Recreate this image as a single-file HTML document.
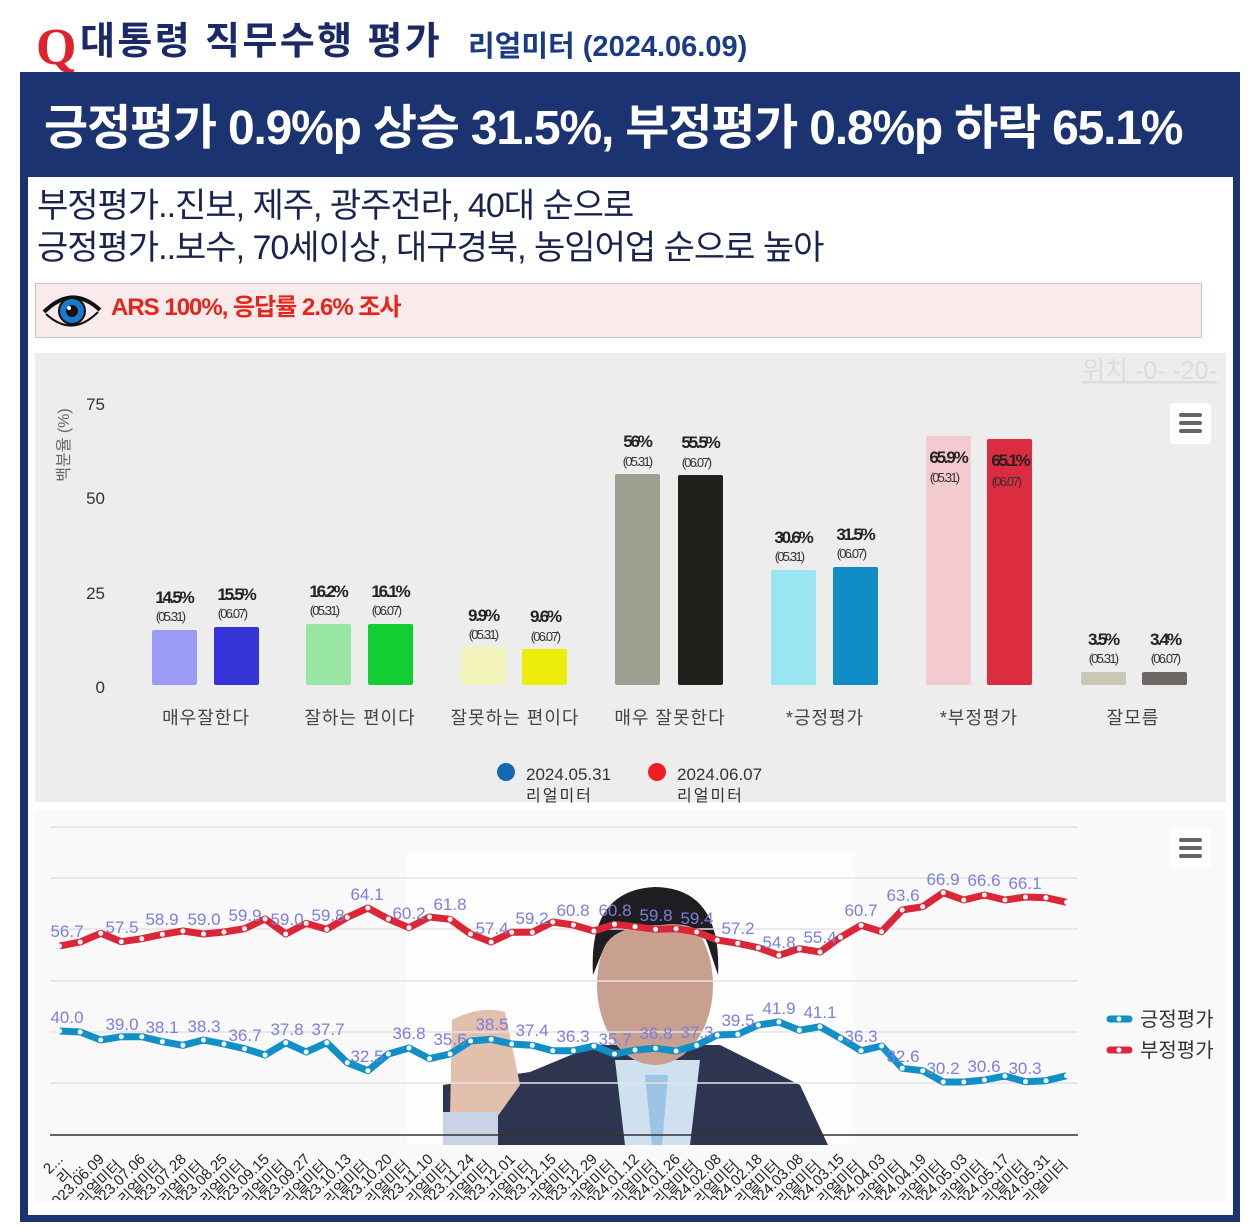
<!DOCTYPE html>
<html><head><meta charset="utf-8">
<style>
body{margin:0;background:#fff;width:1248px;height:1228px;overflow:hidden;font-family:"Liberation Sans","Noto Sans CJK KR",sans-serif;}
.abs{position:absolute;}
</style></head>
<body>
<div class="abs" style="left:0;top:0;width:1248px;height:1228px;">
<div class="abs" style="left:36px;top:18px;font-family:'Liberation Serif',serif;font-weight:bold;font-size:52px;color:#e0202a;line-height:60px;">Q</div>
<div class="abs" style="left:80px;top:19px;font-weight:bold;font-size:38px;color:#1a2a66;line-height:46px;letter-spacing:2.4px;">대통령 직무수행 평가</div>
<div class="abs" style="left:468px;top:29px;font-weight:bold;font-size:29px;color:#1a3a8a;line-height:36px;letter-spacing:0px;">리얼미터 (2024.06.09)</div>
<div class="abs" style="left:20px;top:72px;width:1220px;height:1150px;background:#1b3370;"></div>
<div class="abs" style="left:44px;top:84px;width:1190px;height:90px;color:#fff;font-weight:bold;font-size:48px;line-height:90px;letter-spacing:-1.2px;white-space:nowrap;">긍정평가 0.9%p 상승 31.5%, 부정평가 0.8%p 하락 65.1%</div>
<div class="abs" style="left:28px;top:177px;width:1205px;height:1038px;background:#fff;"></div>
<div class="abs" style="left:37px;top:185px;font-size:34px;line-height:42px;color:#1a2350;letter-spacing:-1px;">부정평가..진보, 제주, 광주전라, 40대 순으로<br>긍정평가..보수, 70세이상, 대구경북, 농임어업 순으로 높아</div>
<div class="abs" style="left:35px;top:283px;width:1165px;height:53px;background:#f9ebec;border:1px solid #c8c8c8;"></div>
<svg class="abs" style="left:40px;top:288px" width="64" height="44" viewBox="0 0 64 44">
<path d="M4 24 Q32 -4 60 22" stroke="#111" stroke-width="4" fill="none"/>
<path d="M6 26 Q32 50 58 24" stroke="#111" stroke-width="2" fill="none"/>
<circle cx="32" cy="23" r="13" fill="#1b7ac8" stroke="#111" stroke-width="2"/>
<circle cx="32" cy="23" r="6" fill="#111"/><circle cx="29" cy="20" r="2" fill="#fff"/>
</svg>
<div class="abs" style="left:111px;top:292px;font-weight:bold;font-size:24px;color:#e82418;line-height:32px;letter-spacing:-1px;">ARS 100%, 응답률 2.6% 조사</div>

<svg class="abs" style="left:0;top:0" width="1248" height="1228">
<rect x="35" y="353" width="1191" height="449" fill="#ededed"/>
<text x="1082" y="379" font-size="25" fill="#dcdcdc" text-decoration="underline">위치 -0- -20-</text>
<rect x="1170" y="403" width="41" height="41" rx="3" fill="#fff"/>
<g stroke="#666" stroke-width="4" stroke-linecap="round"><line x1="1181" y1="415" x2="1200" y2="415"/><line x1="1181" y1="423" x2="1200" y2="423"/><line x1="1181" y1="431" x2="1200" y2="431"/></g>
<text transform="translate(69,445) rotate(-90)" text-anchor="middle" font-size="16" fill="#666">백분율 (%)</text>
<g font-size="17" fill="#333" text-anchor="end">
<text x="105" y="410">75</text><text x="105" y="504">50</text><text x="105" y="599">25</text><text x="105" y="693">0</text>
</g>
<g>
<rect x="152" y="630" width="45" height="55" fill="#9b9bf5" rx="2"/><rect x="214" y="627" width="45" height="58" fill="#3535da" rx="2"/>
<rect x="306" y="624" width="45" height="61" fill="#99e6a3" rx="2"/><rect x="368" y="624" width="45" height="61" fill="#12ce32" rx="2"/>
<rect x="461" y="647" width="45" height="38" fill="#f4f4bd" rx="2"/><rect x="522" y="649" width="45" height="36" fill="#eced08" rx="2"/>
<rect x="615" y="474" width="45" height="211" fill="#9f9f91" rx="2"/><rect x="678" y="475" width="45" height="210" fill="#20201d" rx="2"/>
<rect x="771" y="570" width="45" height="115" fill="#9ae6f0" rx="2"/><rect x="833" y="567" width="45" height="118" fill="#0f8cc6" rx="2"/>
<rect x="926" y="436" width="45" height="249" fill="#f4cad1" rx="2"/><rect x="987" y="439" width="45" height="246" fill="#dc2c40" rx="2"/>
<rect x="1081" y="672" width="45" height="13" fill="#c8c8b5" rx="2"/><rect x="1142" y="672" width="45" height="13" fill="#6f6766" rx="2"/>
</g>
<g text-anchor="middle" fill="#222" font-weight="bold" font-size="17" letter-spacing="-2.2">
<text x="174" y="603">14.5%</text><text x="236" y="600">15.5%</text>
<text x="328" y="597">16.2%</text><text x="390" y="597">16.1%</text>
<text x="483" y="621">9.9%</text><text x="545" y="622">9.6%</text>
<text x="637" y="447">56%</text><text x="700" y="448">55.5%</text>
<text x="793" y="543">30.6%</text><text x="855" y="540">31.5%</text>
<text x="948" y="463">65.9%</text><text x="1010" y="466">65.1%</text>
<text x="1103" y="645">3.5%</text><text x="1165" y="645">3.4%</text>
</g>
<g text-anchor="middle" fill="#333" font-size="13" letter-spacing="-1.8">
<text x="170" y="621">(05.31)</text><text x="232" y="618">(06.07)</text>
<text x="324" y="615">(05.31)</text><text x="386" y="615">(06.07)</text>
<text x="483" y="639">(05.31)</text><text x="545" y="641">(06.07)</text>
<text x="637" y="466">(05.31)</text><text x="696" y="467">(06.07)</text>
<text x="789" y="561">(05.31)</text><text x="851" y="558">(06.07)</text>
<text x="944" y="482">(05.31)</text><text x="1006" y="486">(06.07)</text>
<text x="1103" y="663">(05.31)</text><text x="1165" y="663">(06.07)</text>
</g>
<g text-anchor="middle" fill="#444" font-size="18" letter-spacing="1">
<text x="206" y="724">매우잘한다</text><text x="360" y="724">잘하는 편이다</text><text x="515" y="724">잘못하는 편이다</text>
<text x="670" y="724">매우 잘못한다</text><text x="825" y="724">*긍정평가</text><text x="979" y="724">*부정평가</text><text x="1133" y="724">잘모름</text>
</g>
<circle cx="506" cy="772" r="9" fill="#1369b4"/><text x="526" y="780" font-size="17" fill="#333">2024.05.31</text><text x="526" y="801" font-size="16" fill="#333" letter-spacing="2">리얼미터</text>
<circle cx="657" cy="772" r="9" fill="#f01c26"/><text x="677" y="780" font-size="17" fill="#333">2024.06.07</text><text x="677" y="801" font-size="16" fill="#333" letter-spacing="2">리얼미터</text>

<rect x="35" y="810" width="1191" height="392" fill="#f9f9f9"/>
<rect x="407" y="853" width="448" height="290" fill="#fdfdfd"/>
<g>
<path d="M443 1145 L443 1085 L530 1072 L595 1045 L720 1045 L800 1085 L828 1145 Z" fill="#2e3550"/>
<path d="M615 1060 L700 1060 L690 1145 L625 1145 Z" fill="#cfe0ee"/>
<path d="M645 1075 L668 1075 L662 1145 L652 1145 Z" fill="#9cc4e4"/>
<ellipse cx="655" cy="985" rx="58" ry="80" fill="#c9a090"/>
<path d="M593 975 Q588 890 655 887 Q722 888 718 975 L708 945 Q700 920 660 925 Q612 925 603 950 Z" fill="#1e1e22"/>
<path d="M450 1115 L452 1020 Q480 1005 505 1012 L520 1085 L495 1120 Z" fill="#e3bfae"/>
<rect x="443" y="1112" width="55" height="33" fill="#c9d3e6"/>
</g>
<g stroke="#e3e3e3" stroke-width="1.5">
<line x1="50" y1="827" x2="1078" y2="827"/><line x1="50" y1="878" x2="1078" y2="878"/><line x1="50" y1="929" x2="1078" y2="929"/>
<line x1="50" y1="981" x2="1078" y2="981"/><line x1="50" y1="1032" x2="1078" y2="1032"/><line x1="50" y1="1083" x2="1078" y2="1083"/>
</g>
<line x1="50" y1="1135" x2="1078" y2="1135" stroke="#333" stroke-width="1.5"/>
<polyline id="red" fill="none" stroke="#dc2638" stroke-width="7" stroke-linejoin="round" points="59.6,946 80.2,942 100.7,933.3 121.3,941.7 141.8,938.7 162.4,934.3 182.9,931 203.5,934 224,932 244.6,928.7 265.1,919 285.7,934 306.2,923.3 326.8,929.3 347.3,917.3 367.9,908 388.4,919 409,927.7 429.5,917 450.1,919.3 470.6,934 491.2,942 511.7,932.3 532.3,932.3 552.8,922 573.4,925 593.9,931 614.5,924.3 635,926.7 655.6,929.3 676.1,928.7 696.7,932 717.2,940 737.8,943.3 758.3,947.7 778.9,955.3 799.4,948.7 820,952 840.5,937.3 861.1,925.3 881.6,931.7 902.2,910 922.7,906.7 943.3,892.7 963.8,900 984.4,895 1004.9,900 1025.5,897 1046,897.7 1066.6,902.3"/>
<polyline id="blue" fill="none" stroke="#1190c8" stroke-width="7" stroke-linejoin="round" points="59.6,1031 80.2,1032 100.7,1040 121.3,1036.7 141.8,1036.7 162.4,1041.7 182.9,1045.3 203.5,1040 224,1044 244.6,1048.7 265.1,1055 285.7,1042.7 306.2,1052 326.8,1042.7 347.3,1062.7 367.9,1070.7 388.4,1054 409,1048 429.5,1058.7 450.1,1054 470.6,1041 491.2,1039.3 511.7,1044 532.3,1045.3 552.8,1050.7 573.4,1050.7 593.9,1046 614.5,1054 635,1050 655.6,1048.3 676.1,1051 696.7,1045.3 717.2,1035 737.8,1034.3 758.3,1025 778.9,1022 799.4,1030.3 820,1026.7 840.5,1038.3 861.1,1050.7 881.6,1046 902.2,1068.3 922.7,1070.7 943.3,1082 963.8,1082 984.4,1080 1004.9,1076 1025.5,1081.7 1046,1080.7 1066.6,1075.7"/>
<g id="dots" fill="#fff"></g>
<g fill="#7c7fdc" font-size="17" text-anchor="middle">
<text x="67" y="937">56.7</text><text x="122" y="933">57.5</text><text x="162" y="925">58.9</text><text x="204" y="925">59.0</text><text x="245" y="921">59.9</text><text x="287" y="925">59.0</text><text x="328" y="921">59.8</text><text x="367" y="900">64.1</text><text x="409" y="919">60.2</text><text x="450" y="910">61.8</text><text x="492" y="934">57.4</text><text x="532" y="924">59.2</text><text x="573" y="916">60.8</text><text x="615" y="916">60.8</text><text x="656" y="921">59.8</text><text x="697" y="924">59.4</text><text x="738" y="934">57.2</text><text x="779" y="948">54.8</text><text x="820" y="943">55.4</text><text x="861" y="916">60.7</text><text x="903" y="901">63.6</text><text x="943" y="885">66.9</text><text x="984" y="886">66.6</text><text x="1025" y="889">66.1</text>
<text x="67" y="1023">40.0</text><text x="122" y="1030">39.0</text><text x="162" y="1033">38.1</text><text x="204" y="1032">38.3</text><text x="245" y="1041">36.7</text><text x="287" y="1035">37.8</text><text x="328" y="1035">37.7</text><text x="367" y="1062">32.5</text><text x="409" y="1039">36.8</text><text x="450" y="1045">35.6</text><text x="492" y="1030">38.5</text><text x="532" y="1036">37.4</text><text x="573" y="1042">36.3</text><text x="615" y="1045">35.7</text><text x="656" y="1039">36.8</text><text x="697" y="1038">37.3</text><text x="738" y="1026">39.5</text><text x="779" y="1014">41.9</text><text x="820" y="1018">41.1</text><text x="861" y="1042">36.3</text><text x="903" y="1062">32.6</text><text x="943" y="1074">30.2</text><text x="984" y="1072">30.6</text><text x="1025" y="1074">30.3</text>
</g>
<rect x="1170" y="828" width="41" height="40" rx="3" fill="#fff"/>
<g stroke="#666" stroke-width="4" stroke-linecap="round"><line x1="1181" y1="840" x2="1200" y2="840"/><line x1="1181" y1="848" x2="1200" y2="848"/><line x1="1181" y1="856" x2="1200" y2="856"/></g>
<line x1="1110" y1="1019" x2="1129" y2="1019" stroke="#1190c8" stroke-width="7" stroke-linecap="round"/><circle cx="1119" cy="1019" r="2.5" fill="#fff"/>
<line x1="1110" y1="1050" x2="1129" y2="1050" stroke="#dc2638" stroke-width="7" stroke-linecap="round"/><circle cx="1119" cy="1050" r="2.5" fill="#fff"/>
<text x="1140" y="1026" font-size="20" fill="#333">긍정평가</text><text x="1140" y="1057" font-size="20" fill="#333">부정평가</text>
<clipPath id="cp"><rect x="30" y="1140" width="1100" height="60"/></clipPath>
<g clip-path="url(#cp)" font-size="15" fill="#222" text-anchor="end">
<g transform="translate(64,1160) rotate(-45)"><text>2...</text><text x="8" y="17">리...</text></g>
<g transform="translate(105,1160) rotate(-45)"><text>2023.06.09</text><text x="8" y="17">리얼미터</text></g>
<g transform="translate(146,1160) rotate(-45)"><text>2023.07.06</text><text x="8" y="17">리얼미터</text></g>
<g transform="translate(187,1160) rotate(-45)"><text>2023.07.28</text><text x="8" y="17">리얼미터</text></g>
<g transform="translate(228,1160) rotate(-45)"><text>2023.08.25</text><text x="8" y="17">리얼미터</text></g>
<g transform="translate(270,1160) rotate(-45)"><text>2023.09.15</text><text x="8" y="17">리얼미터</text></g>
<g transform="translate(311,1160) rotate(-45)"><text>2023.09.27</text><text x="8" y="17">리얼미터</text></g>
<g transform="translate(352,1160) rotate(-45)"><text>2023.10.13</text><text x="8" y="17">리얼미터</text></g>
<g transform="translate(393,1160) rotate(-45)"><text>2023.10.20</text><text x="8" y="17">리얼미터</text></g>
<g transform="translate(434,1160) rotate(-45)"><text>2023.11.10</text><text x="8" y="17">리얼미터</text></g>
<g transform="translate(475,1160) rotate(-45)"><text>2023.11.24</text><text x="8" y="17">리얼미터</text></g>
<g transform="translate(516,1160) rotate(-45)"><text>2023.12.01</text><text x="8" y="17">리얼미터</text></g>
<g transform="translate(557,1160) rotate(-45)"><text>2023.12.15</text><text x="8" y="17">리얼미터</text></g>
<g transform="translate(598,1160) rotate(-45)"><text>2023.12.29</text><text x="8" y="17">리얼미터</text></g>
<g transform="translate(640,1160) rotate(-45)"><text>2024.01.12</text><text x="8" y="17">리얼미터</text></g>
<g transform="translate(681,1160) rotate(-45)"><text>2024.01.26</text><text x="8" y="17">리얼미터</text></g>
<g transform="translate(722,1160) rotate(-45)"><text>2024.02.08</text><text x="8" y="17">리얼미터</text></g>
<g transform="translate(763,1160) rotate(-45)"><text>2024.02.18</text><text x="8" y="17">리얼미터</text></g>
<g transform="translate(804,1160) rotate(-45)"><text>2024.03.08</text><text x="8" y="17">리얼미터</text></g>
<g transform="translate(845,1160) rotate(-45)"><text>2024.03.15</text><text x="8" y="17">리얼미터</text></g>
<g transform="translate(886,1160) rotate(-45)"><text>2024.04.03</text><text x="8" y="17">리얼미터</text></g>
<g transform="translate(927,1160) rotate(-45)"><text>2024.04.19</text><text x="8" y="17">리얼미터</text></g>
<g transform="translate(968,1160) rotate(-45)"><text>2024.05.03</text><text x="8" y="17">리얼미터</text></g>
<g transform="translate(1010,1160) rotate(-45)"><text>2024.05.17</text><text x="8" y="17">리얼미터</text></g>
<g transform="translate(1051,1160) rotate(-45)"><text>2024.05.31</text><text x="8" y="17">리얼미터</text></g>
</g>
</svg>
</div>
<script>
var g=document.getElementById('dots'),ns='http://www.w3.org/2000/svg';
['red','blue'].forEach(function(id){
 document.getElementById(id).getAttribute('points').trim().split(/\s+/).forEach(function(p){
  var a=p.split(','),c=document.createElementNS(ns,'circle');
  c.setAttribute('cx',a[0]);c.setAttribute('cy',a[1]);c.setAttribute('r','2.5');g.appendChild(c);
 });
});
</script>
</body></html>
